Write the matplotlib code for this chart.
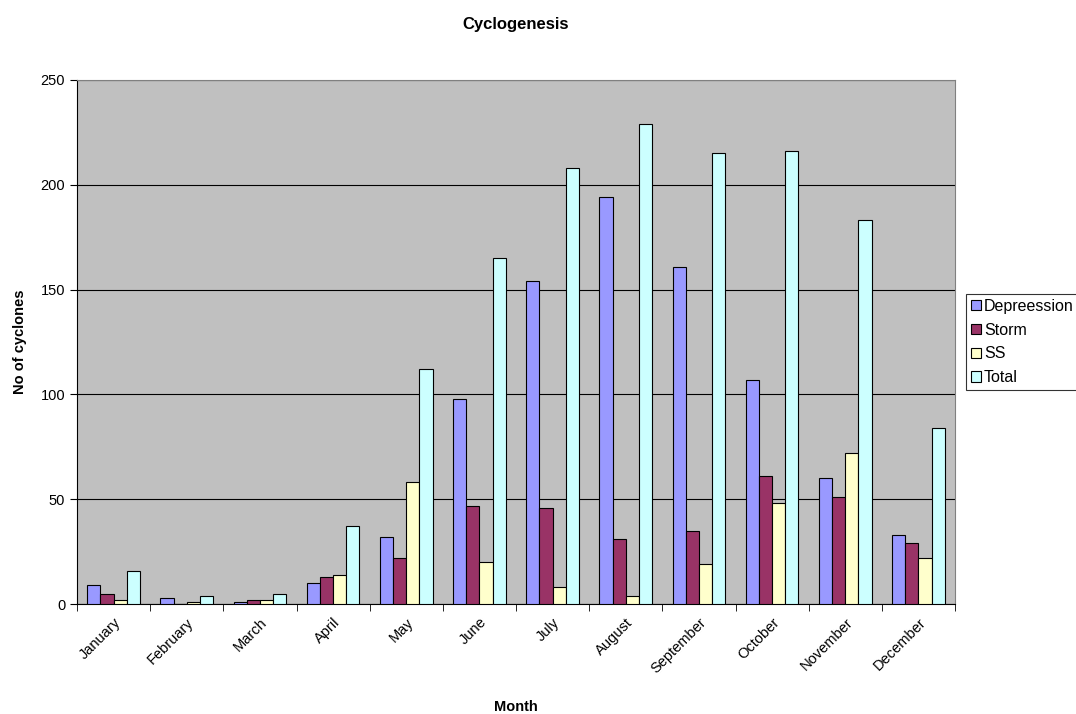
import numpy as np
import matplotlib.pyplot as plt

months = ["January", "February", "March", "April", "May", "June",
          "July", "August", "September", "October", "November", "December"]
depression = [9, 3, 1, 10, 32, 98, 154, 194, 161, 107, 60, 33]
storm = [5, 0, 2, 13, 22, 47, 46, 31, 35, 61, 51, 29]
ss = [2, 1, 2, 14, 58, 20, 8, 4, 19, 48, 72, 22]
total = [16, 4, 5, 37, 112, 165, 208, 229, 215, 216, 183, 84]

series = [("Depreession", depression, "#9999FF"),
          ("Storm", storm, "#993366"),
          ("SS", ss, "#FFFFCC"),
          ("Total", total, "#CCFFFF")]

plt.rcParams["font.family"] = ["Liberation Sans", "DejaVu Sans"]

fig = plt.figure(figsize=(10.76, 7.14), dpi=100)
ax = fig.add_axes([0.0716, 0.154, 0.816, 0.734])
ax.set_facecolor("#C0C0C0")

x = np.arange(len(months))
w = 0.18
for i, (name, vals, col) in enumerate(series):
    ax.bar(x + (i - 1.5) * w, vals, w, color=col, edgecolor="black",
           linewidth=0.8, label=name, zorder=3)

ax.set_xlim(-0.5, len(months) - 0.5)
ax.set_ylim(0, 250)
ax.set_yticks(range(0, 251, 50))
ax.grid(axis="y", color="black", linewidth=0.8, zorder=1)

# labels centred under each group, tick marks at group boundaries
ax.set_xticks(x)
ax.set_xticklabels(months, rotation=45, ha="right", rotation_mode="anchor", fontsize=10.5)
ax.tick_params(axis="x", which="major", length=0, pad=8)
ax.set_xticks(np.arange(-0.5, len(months), 1), minor=True)
ax.tick_params(axis="x", which="minor", length=5, color="black")
ax.tick_params(axis="y", labelsize=10.5, length=5)

for s in ["top", "right"]:
    ax.spines[s].set_color("#808080")
for s in ["left", "bottom"]:
    ax.spines[s].set_color("black")

fig.text(ax.get_position().x0 + ax.get_position().width / 2, 0.01, "Month",
         ha="center", va="center", fontsize=10.5, fontweight="bold")
ax.set_ylabel("No of cyclones", fontsize=10.5, fontweight="bold", labelpad=10)
ax.set_title("Cyclogenesis", fontsize=12, fontweight="bold", pad=37)

leg = ax.legend(loc="center left", bbox_to_anchor=(1.013, 0.5), frameon=True,
                fancybox=False, edgecolor="black", fontsize=11.5,
                handlelength=0.6, handleheight=0.6, handletextpad=0.2,
                borderpad=0.3, labelspacing=0.55, borderaxespad=0)
leg.get_frame().set_linewidth(0.8)

fig.savefig("out.png", dpi=100)
